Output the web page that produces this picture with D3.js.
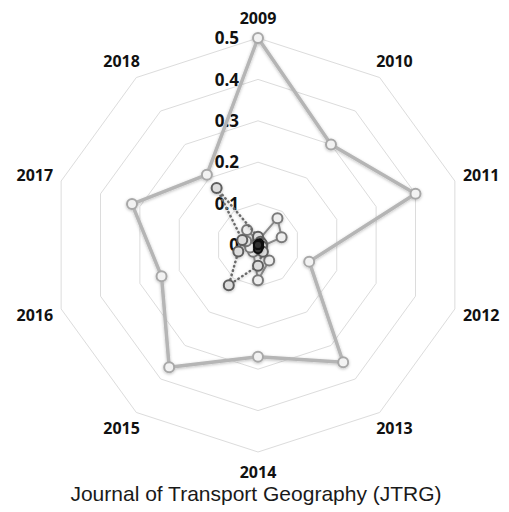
<!DOCTYPE html>
<html>
<head>
<meta charset="utf-8">
<script src="https://cdn.jsdelivr.net/npm/d3@7"></script>
<style>
  body { margin: 0; background: #fff; }
  svg { display: block; }
</style>
</head>
<body>
<svg id="chart" width="509" height="512"></svg>
<script>
const years = ['2009', '2010', '2011', '2012', '2013', '2014', '2015', '2016', '2017', '2018']
const ticks = [0, 0.1, 0.2, 0.3, 0.4, 0.5]
// main series (light grey, thick)
const seriesMain = [0.50, 0.30, 0.40, 0.13, 0.35, 0.27, 0.365, 0.245, 0.32, 0.21]
// dotted series
const seriesDotted = [0.02, 0.01, 0.01, 0.01, 0.02, 0.05, 0.12, 0.05, 0.04, 0.17]
// thin solid series
const seriesThin = [0.01, 0.08, 0.06, 0.01, 0.046, 0.085, 0.02, 0.02, 0.03, 0.045]
// near-zero dark series
const seriesDark = [0.0, 0.005, 0.0, 0.0, 0.005, 0.01, 0.0, 0.0, 0.0, 0.0]

const cx = 258, cy = 245
const R = 207

const svg = d3.select('#chart')

const defs = svg.append('defs')
const shadow = defs.append('filter').attr('id', 'shadow')
  .attr('x', '-20%').attr('y', '-20%').attr('width', '140%').attr('height', '140%')
shadow.append('feDropShadow')
  .attr('dx', 0).attr('dy', 1).attr('stdDeviation', 1.5)
  .attr('flood-color', '#000').attr('flood-opacity', 0.25)

const r = d3.scaleLinear().domain([0, 0.5]).range([0, R])
const angle = d3.scaleLinear().domain([0, years.length]).range([0, 2 * Math.PI])

const g = svg.append('g').attr('transform', `translate(${cx}, ${cy})`)

// grid decagons
const ring = d3.lineRadial()
  .angle((d, i) => angle(i))
  .radius(d => r(d))
  .curve(d3.curveLinearClosed)

g.selectAll('path.grid')
  .data(ticks.filter(t => t > 0))
  .enter()
  .append('path')
  .attr('class', 'grid')
  .attr('d', t => ring(years.map(() => t)))
  .attr('fill', 'none')
  .attr('stroke', '#dcdcdc')
  .attr('stroke-width', 1)

// tick labels
g.selectAll('text.tick')
  .data(ticks)
  .enter()
  .append('text')
  .attr('class', 'tick')
  .attr('x', -19)
  .attr('y', t => -r(t))
  .attr('dy', '0.36em')
  .attr('text-anchor', 'end')
  .style('font-family', '"Open Sans", "Noto Sans", sans-serif')
  .style('font-weight', 'bold')
  .style('font-size', '17px')
  .attr('fill', '#111')
  .text(t => t === 0 ? '0' : t.toFixed(1))

// category labels
g.selectAll('text.cat')
  .data(years)
  .enter()
  .append('text')
  .attr('class', 'cat')
  .attr('x', (d, i) => Math.sin(angle(i)) * (228 + 7 * Math.abs(Math.sin(angle(i)))))
  .attr('y', (d, i) => -Math.cos(angle(i)) * 227)
  .attr('dy', '0.36em')
  .attr('text-anchor', 'middle')
  .style('font-family', '"Open Sans", "Noto Sans", sans-serif')
  .style('font-weight', 'bold')
  .style('font-size', '16px')
  .attr('fill', '#111')
  .text(d => d)

function drawSeries(values, opt) {
  const line = d3.lineRadial()
    .angle((d, i) => angle(i))
    .radius(d => r(d))
    .curve(d3.curveLinearClosed)

  const s = g.append('g').attr('filter', 'url(#shadow)')
  s.append('path')
    .attr('d', line(values))
    .attr('fill', 'none')
    .attr('stroke', opt.color)
    .attr('stroke-width', opt.width)
    .attr('stroke-dasharray', opt.dash || null)
    .attr('stroke-linecap', opt.dash ? 'round' : 'butt')
    .attr('stroke-linejoin', 'round')

  s.selectAll('circle')
    .data(values)
    .enter()
    .append('circle')
    .attr('cx', (d, i) => Math.sin(angle(i)) * r(d))
    .attr('cy', (d, i) => -Math.cos(angle(i)) * r(d))
    .attr('r', opt.markerR)
    .attr('fill', opt.markerFill)
    .attr('stroke', opt.markerStroke)
    .attr('stroke-width', 2)
}

drawSeries(seriesMain, { color: '#b5b5b5', width: 3.5, markerR: 5, markerFill: '#f2f2f2', markerStroke: '#a8a8a8' })
drawSeries(seriesThin, { color: '#8a8a8a', width: 2, markerR: 5, markerFill: '#eeeeee', markerStroke: '#7a7a7a' })
drawSeries(seriesDotted, { color: '#6a6a6a', width: 2.5, dash: '0.5,4', markerR: 5, markerFill: '#dddddd', markerStroke: '#5e5e5e' })
drawSeries(seriesDark, { color: '#222', width: 2, markerR: 4, markerFill: '#333', markerStroke: '#111' })

// title
svg.append('text')
  .attr('x', 256)
  .attr('y', 501)
  .attr('text-anchor', 'middle')
  .style('font-family', '"Liberation Sans", Arial, sans-serif')
  .style('font-size', '21px')
  .attr('fill', '#1a1a1a')
  .text('Journal of Transport Geography (JTRG)')
</script>
</body>
</html>
